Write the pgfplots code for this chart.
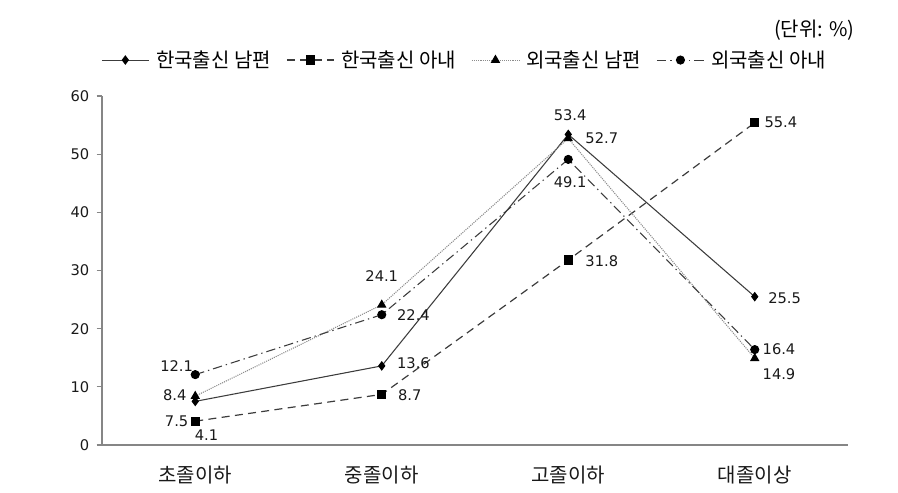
\documentclass[border=0pt]{standalone}
\usepackage{fontspec}
\setmainfont{DejaVu Sans}
\newfontfamily\kr{Noto Sans CJK KR}
\usepackage{pgfplots}
\pgfplotsset{compat=1.18}
\definecolor{axgray}{RGB}{134,134,134}
\definecolor{ln}{RGB}{60,60,60}
\newcommand{\numf}{\fontsize{11}{13}\selectfont}
\newcommand{\krf}{\kr\fontsize{15}{17}\selectfont}
\begin{document}
\begin{tikzpicture}[x=0.75pt,y=0.75pt]
\begin{axis}[
  scale only axis,
  width=559.5pt, height=261.75pt,
  xmin=-0.5, xmax=3.5, ymin=0, ymax=60,
  axis lines*=left,
  axis line style={draw=axgray, line width=0.8pt},
  tick align=outside,
  ytick={0,10,...,60},
  xtick={0,1,2,3},
  xticklabels={초졸이하,중졸이하,고졸이하,대졸이상},
  xtick style={draw=none},
  extra x ticks={0.5,1.5,2.5,3.5},
  extra x tick labels={},
  extra x tick style={tick style={draw=axgray, line width=0.8pt}, major tick length=4pt},
  ytick style={draw=axgray, line width=0.8pt},
  major tick length=4pt,
  /pgf/number format/assume math mode=true,
  yticklabel style={font=\numf, text=black!90, xshift=-2pt},
  xticklabel style={font=\krf, text=black!90, yshift=-8pt},
  clip=false,
  legend columns=4,
  legend style={draw=none, fill=none, at={(0.4866,1.103)}, anchor=center, font=\krf,
    /tikz/every odd column/.append style={column sep=3pt},
    /tikz/every even column/.append style={column sep=9.5pt},
    inner sep=0pt},
  legend image code/.code={\draw[mark repeat=2,mark phase=2,#1] plot coordinates {(0cm,0cm)(0.62cm,0cm)(1.24cm,0cm)};},
]
\addplot[color=ln, line width=0.8pt, solid, mark=diamond*, mark size=3pt, mark options={fill=black, draw=black, solid}]
  coordinates {(0,7.5)(1,13.6)(2,53.4)(3,25.5)};
\addlegendentry{한국출신 남편}
\addplot[color=ln, line width=0.9pt, dash pattern=on 6pt off 4pt, mark=square*, mark size=3pt, mark options={fill=black, draw=black, solid}]
  coordinates {(0,4.1)(1,8.7)(2,31.8)(3,55.4)};
\addlegendentry{한국출신 아내}
\addplot[color=black!45, line width=0.8pt, dash pattern=on 0.8pt off 0.8pt, mark=triangle*, mark size=3.3pt, mark options={fill=black, draw=black, solid}]
  coordinates {(0,8.4)(1,24.1)(2,52.7)(3,14.9)};
\addlegendentry{외국출신 남편}
\addplot[color=ln, line width=0.8pt, dash pattern=on 7pt off 3pt on 1pt off 3pt, mark=*, mark size=3pt, mark options={fill=black, draw=black, solid}]
  coordinates {(0,12.1)(1,22.4)(2,49.1)(3,16.4)};
\addlegendentry{외국출신 아내}
\begin{scope}[every node/.style={font=\numf, text=black!90, inner sep=0pt}]
\node at (axis cs:-0.10,13.6) {12.1};
\node at (axis cs:-0.11,8.6) {8.4};
\node at (axis cs:-0.10,4.1) {7.5};
\node at (axis cs:0.06,1.7) {4.1};
\node at (axis cs:1.00,29.0) {24.1};
\node at (axis cs:1.17,22.3) {22.4};
\node at (axis cs:1.17,14.1) {13.6};
\node at (axis cs:1.15,8.6) {8.7};
\node at (axis cs:2.01,56.7) {53.4};
\node at (axis cs:2.18,52.8) {52.7};
\node at (axis cs:2.01,45.2) {49.1};
\node at (axis cs:2.18,31.6) {31.8};
\node at (axis cs:3.14,55.4) {55.4};
\node at (axis cs:3.16,25.3) {25.5};
\node at (axis cs:3.13,16.5) {16.4};
\node at (axis cs:3.13,12.2) {14.9};
\end{scope}
\node[anchor=east, font=\krf, inner sep=0pt] at (rel axis cs:1.009,1.189) {(단위: \%)};
\end{axis}
\pgfresetboundingbox
\path[use as bounding box] (-102,-47) rectangle (796,445);
\end{tikzpicture}
\end{document}
